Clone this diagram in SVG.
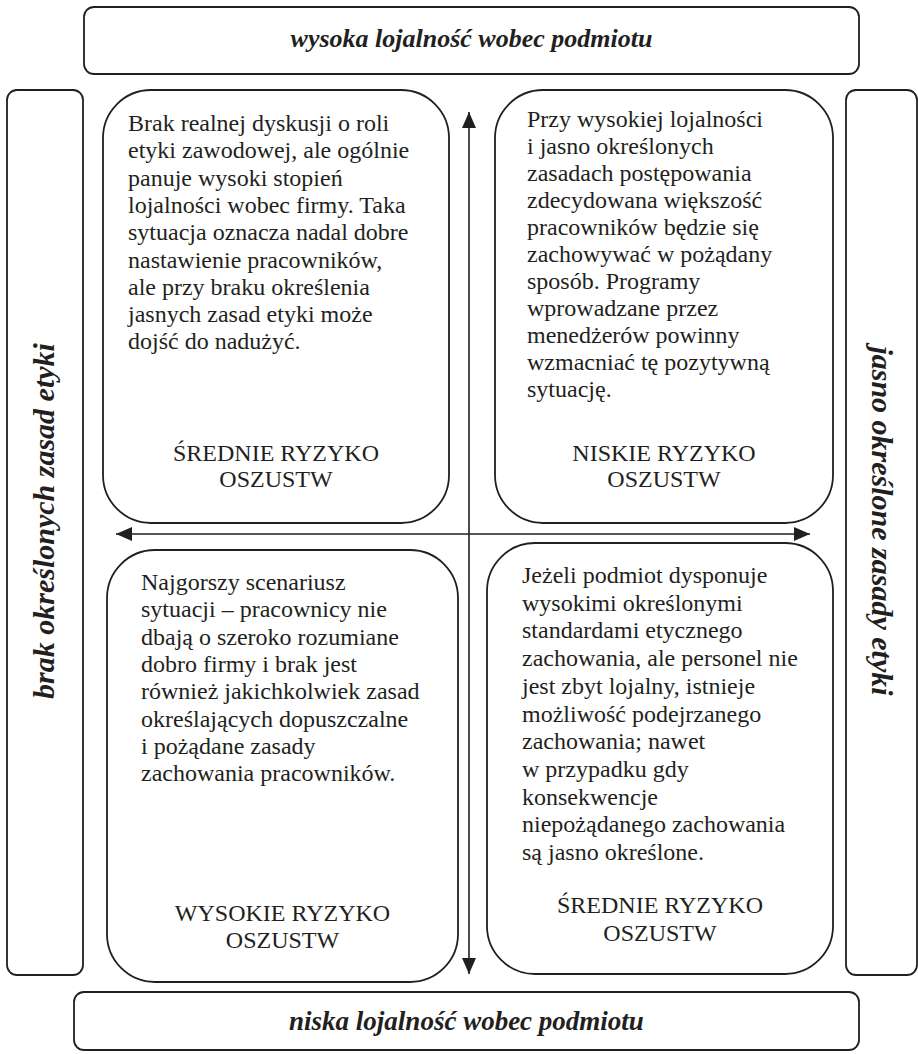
<svg xmlns="http://www.w3.org/2000/svg" width="918" height="1054" viewBox="0 0 918 1054">
<style>
.box{fill:#fff;stroke:#231f20;stroke-width:1.8}
.t{font-size:24px;fill:#231f20}
.bi{font-size:26px;font-weight:bold;font-style:italic;fill:#231f20;text-anchor:middle}
.side{font-size:30px}
.low{font-size:27px}
.c{text-anchor:middle}
.ln{stroke:#231f20;stroke-width:1.6;fill:none}
</style>
<defs>
<marker id="ah" viewBox="0 0 16 14" refX="16" refY="7" markerWidth="16" markerHeight="14" markerUnits="userSpaceOnUse" orient="auto-start-reverse"><path d="M0,0 L16,7 L0,14 z" fill="#231f20"/></marker>
</defs>
<g font-family="Liberation Serif, DejaVu Serif, serif">
<g id="top">
<rect class="box" x="84" y="7" width="775" height="67" rx="10"/>
<text class="bi" x="471.5" y="47">wysoka lojalność wobec podmiotu</text>
</g>
<g id="bottom">
<rect class="box" x="74" y="992" width="785" height="58" rx="10"/>
<text class="bi low" x="466.5" y="1030">niska lojalność wobec podmiotu</text>
</g>
<g id="left">
<rect class="box" x="7" y="90" width="76" height="885" rx="10"/>
<text class="bi side" transform="translate(54,521) rotate(-90)">brak określonych zasad etyki</text>
</g>
<g id="right">
<rect class="box" x="846" y="90" width="71" height="885" rx="10"/>
<text class="bi side" transform="translate(872,521) rotate(90)">jasno określone zasady etyki</text>
</g>
<g id="q-top-left">
<rect class="box" x="103" y="90" width="346" height="433" rx="48"/>
<text class="t" x="128" y="131">Brak realnej dyskusji o roli</text>
<text class="t" x="128" y="158.3">etyki zawodowej, ale ogólnie</text>
<text class="t" x="128" y="185.6">panuje wysoki stopień</text>
<text class="t" x="128" y="212.9">lojalności wobec firmy. Taka</text>
<text class="t" x="128" y="240.2">sytuacja oznacza nadal dobre</text>
<text class="t" x="128" y="267.5">nastawienie pracowników,</text>
<text class="t" x="128" y="294.8">ale przy braku określenia</text>
<text class="t" x="128" y="322.1">jasnych zasad etyki może</text>
<text class="t" x="128" y="349.4">dojść do nadużyć.</text>
<text class="t c" x="276" y="461">ŚREDNIE RYZYKO</text>
<text class="t c" x="276" y="487">OSZUSTW</text>
</g>
<g id="q-top-right">
<rect class="box" x="495" y="90" width="338" height="433" rx="48"/>
<text class="t" x="527" y="127">Przy wysokiej lojalności</text>
<text class="t" x="527" y="154">i jasno określonych</text>
<text class="t" x="527" y="181">zasadach postępowania</text>
<text class="t" x="527" y="208">zdecydowana większość</text>
<text class="t" x="527" y="235">pracowników będzie się</text>
<text class="t" x="527" y="262">zachowywać w pożądany</text>
<text class="t" x="527" y="289">sposób. Programy</text>
<text class="t" x="527" y="316">wprowadzane przez</text>
<text class="t" x="527" y="343">menedżerów powinny</text>
<text class="t" x="527" y="370">wzmacniać tę pozytywną</text>
<text class="t" x="527" y="397">sytuację.</text>
<text class="t c" x="664" y="461">NISKIE RYZYKO</text>
<text class="t c" x="664" y="487">OSZUSTW</text>
</g>
<g id="q-bottom-left">
<rect class="box" x="107" y="550" width="351" height="432" rx="48"/>
<text class="t" x="141" y="590">Najgorszy scenariusz</text>
<text class="t" x="141" y="617.3">sytuacji – pracownicy nie</text>
<text class="t" x="141" y="644.6">dbają o szeroko rozumiane</text>
<text class="t" x="141" y="671.9">dobro firmy i brak jest</text>
<text class="t" x="141" y="699.2">również jakichkolwiek zasad</text>
<text class="t" x="141" y="726.5">określających dopuszczalne</text>
<text class="t" x="141" y="753.8">i pożądane zasady</text>
<text class="t" x="141" y="781.1">zachowania pracowników.</text>
<text class="t c" x="282.5" y="921">WYSOKIE RYZYKO</text>
<text class="t c" x="282.5" y="948">OSZUSTW</text>
</g>
<g id="q-bottom-right">
<rect class="box" x="487" y="543" width="346" height="431" rx="48"/>
<text class="t" x="522" y="583">Jeżeli podmiot dysponuje</text>
<text class="t" x="522" y="610.7">wysokimi określonymi</text>
<text class="t" x="522" y="638.4">standardami etycznego</text>
<text class="t" x="522" y="666.1">zachowania, ale personel nie</text>
<text class="t" x="522" y="693.8">jest zbyt lojalny, istnieje</text>
<text class="t" x="522" y="721.5">możliwość podejrzanego</text>
<text class="t" x="522" y="749.2">zachowania; nawet</text>
<text class="t" x="522" y="776.9">w przypadku gdy</text>
<text class="t" x="522" y="804.6">konsekwencje</text>
<text class="t" x="522" y="832.3">niepożądanego zachowania</text>
<text class="t" x="522" y="860">są jasno określone.</text>
<text class="t c" x="660" y="913">ŚREDNIE RYZYKO</text>
<text class="t c" x="660" y="941">OSZUSTW</text>
</g>
</g>
<g id="connectors">
<line class="ln" x1="469" y1="112" x2="469" y2="974" marker-start="url(#ah)" marker-end="url(#ah)"/>
<line class="ln" x1="116" y1="534" x2="810" y2="534" marker-start="url(#ah)" marker-end="url(#ah)"/>
</g>
</svg>
